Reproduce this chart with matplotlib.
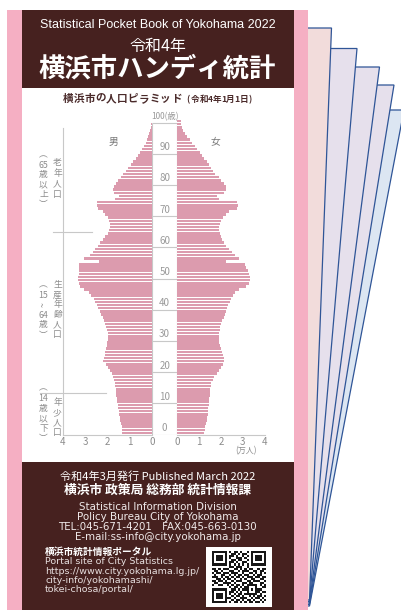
import matplotlib
matplotlib.use('Agg')
import matplotlib.pyplot as plt
from matplotlib.patches import Rectangle, Polygon
import numpy as np

plt.rcParams['font.family'] = ['Noto Sans CJK JP', 'DejaVu Sans']

# population by age (0..100+), unit: 10,000 persons
ages = list(range(101))
male = [
    1.33, 1.35, 1.37, 1.40, 1.42, 1.44, 1.47, 1.49, 1.52, 1.54,
    1.56, 1.58, 1.60, 1.62, 1.64, 1.66, 1.68, 1.71, 1.76, 1.82,
    1.90, 1.97, 2.05, 2.20, 2.14, 2.12, 2.12, 2.08, 2.04, 2.02,
    2.00, 1.99, 2.00, 2.03, 2.06, 2.10, 2.15, 2.20, 2.28, 2.35,
    2.41, 2.47, 2.55, 2.62, 2.72, 2.85, 3.05, 3.25, 3.30, 3.32,
    3.32, 3.30, 3.28, 3.27, 3.27, 2.36, 3.05, 2.78, 2.66, 2.55,
    2.43, 2.32, 2.20, 2.09, 2.00, 1.94, 1.91, 1.90, 1.93, 2.00,
    2.10, 2.22, 2.44, 2.48, 2.45, 1.65, 1.50, 1.70, 1.74, 1.70,
    1.64, 1.52, 1.41, 1.30, 1.18, 1.06, 0.95, 0.84, 0.73, 0.63,
    0.53, 0.44, 0.35, 0.29, 0.23, 0.17, 0.12, 0.08, 0.05, 0.03,
    0.02]
female = [
    1.23, 1.26, 1.29, 1.32, 1.35, 1.37, 1.39, 1.41, 1.43, 1.45,
    1.46, 1.47, 1.48, 1.50, 1.51, 1.53, 1.56, 1.62, 1.70, 1.80,
    1.92, 2.01, 2.08, 2.14, 2.12, 2.08, 2.04, 2.00, 1.96, 1.93,
    1.92, 1.91, 1.92, 1.95, 1.98, 2.02, 2.07, 2.12, 2.17, 2.22,
    2.28, 2.34, 2.40, 2.46, 2.55, 2.65, 2.85, 3.15, 3.28, 3.32,
    3.32, 3.30, 3.24, 3.15, 3.10, 2.25, 2.85, 2.66, 2.50, 2.36,
    2.25, 2.15, 2.07, 2.00, 1.95, 1.92, 1.92, 1.95, 2.02, 2.10,
    2.22, 2.38, 2.75, 2.80, 2.72, 1.90, 1.80, 2.15, 2.24, 2.22,
    2.14, 2.02, 1.90, 1.75, 1.62, 1.54, 1.46, 1.35, 1.23, 1.13,
    1.03, 0.92, 0.80, 0.68, 0.57, 0.45, 0.34, 0.28, 0.22, 0.18,
    0.15]
age_marks = [0, 10, 20, 30, 40, 50, 60, 70, 80, 90, 100]
pop_ticks = [0, 1, 2, 3, 4]

header_lines = ['Statistical Pocket Book of Yokohama 2022', '令和4年', '横浜市ハンディ統計']
footer_lines = ['Statistical Information Division', 'Policy Bureau City of Yokohama',
                'TEL:045-671-4201　FAX:045-663-0130', 'E-mail:ss-info@city.yokohama.jp']
portal_lines = ['Portal site of City Statistics', 'https://www.city.yokohama.lg.jp/',
                'city-info/yokohamashi/', 'tokei-chosa/portal/']

qr_rows = [
    "1111111010110100101111111",
    "1000001001101011001000001",
    "1011101011010010101011101",
    "1011101010011101001011101",
    "1011101001101100101011101",
    "1000001011010011001000001",
    "1111111010101010101111111",
    "0000000011011100100000000",
    "1101011100110101011001011",
    "0110100011001011100110110",
    "1011011101110010011010101",
    "0100110010101101100101100",
    "1110101101011010111011011",
    "0011010110100101001100110",
    "1101101001011100110111001",
    "0110011110100011011000110",
    "1001100101011010111110101",
    "0000000010110101100010011",
    "1111111001101011101011100",
    "1000001011010100100011011",
    "1011101010101101111110100",
    "1011101001011010010101101",
    "1011101110100111001011010",
    "1000001001011010110100101",
    "1111111010110101011011010",
]

BROWN = '#46211f'
PINK = '#f5afc3'
BAR = '#dc9bae'
LINE = '#c8c8c8'
GRAY = '#8c8c8c'

W, H = 401, 610
fig = plt.figure(figsize=(W / 100, H / 100), dpi=100)
bg = fig.add_axes([0, 0, 1, 1])
bg.set_xlim(0, W)
bg.set_ylim(H, 0)
bg.axis('off')


def frac(x0, y0, x1, y1):
    return [x0 / W, 1 - y1 / H, (x1 - x0) / W, (y1 - y0) / H]


def spaced(x, y, s, step, **kw):
    # draw characters one by one with a fixed pitch (letter-spaced title)
    for ch in s:
        w = step if ord(ch) > 0x2000 else step * 0.55
        bg.text(x + w / 2, y, ch, ha='center', va='center', **kw)
        x += w


# fanned pages behind the cover
page_tops = [(28, 331.5), (48.5, 357), (67, 379.5), (85, 394), (110, 404)]
page_fill = ['#f2dcdb', '#e6e0ec', '#e6e0ec', '#e6e0ec', '#dce6f2']
for k in range(len(page_tops) - 1, -1, -1):
    ty, rx = page_tops[k]
    by = 600 + 1.5 * k
    bg.add_patch(Polygon([(300, by), (300, ty), (rx, ty), (309.5, by)], closed=True,
                         facecolor=page_fill[k], edgecolor='#2f5597', lw=0.9))

# cover
bg.add_patch(Rectangle((7, 10), 301, 600, facecolor=PINK, edgecolor='none'))
bg.add_patch(Rectangle((22, 10), 272, 78, facecolor=BROWN, edgecolor='none'))
bg.add_patch(Rectangle((22, 88), 272, 374, facecolor='white', edgecolor='none'))
bg.add_patch(Rectangle((22, 462), 272, 148, facecolor=BROWN, edgecolor='none'))

bg.text(157.5, 25, header_lines[0], color='white', fontsize=9, ha='center', va='center',
        family=['Liberation Sans', 'DejaVu Sans'])
bg.text(157.5, 46, header_lines[1], color='white', fontsize=11.5, ha='center', va='center')
bg.text(157.5, 69, header_lines[2], color='white', fontsize=19, fontweight='bold',
        ha='center', va='center')

spaced(63, 99, '横浜市の人口ピラミッド', 10.75, color='#4a2a2a', fontsize=7.6,
       fontweight='bold')
spaced(186, 99.5, '(令和4年1月1日)', 8.6, color='#4a2a2a', fontsize=6.2,
       fontweight='bold')

# left group labels
bg.plot([63, 63], [128, 434.5], color=LINE, lw=0.8)
bg.plot([53, 92], [232, 232], color=LINE, lw=0.8)
bg.plot([40, 106], [393.3, 393.3], color=LINE, lw=0.8)
groups = [
    (['︵', '65', '歳', '以', '上', '︶'], [155, 165, 175, 185, 194.5, 205],
     ['老', '年', '人', '口'], [163, 173.5, 184, 194]),
    (['︵', '15', '~', '64', '歳', '︶'], [285, 295, 305, 315, 325, 335.5],
     ['生', '産', '年', '齢', '人', '口'], [285, 295, 305, 315, 325, 335]),
    (['︵', '14', '歳', '以', '下', '︶'], [388, 398.5, 408.5, 418.5, 428.5, 438.5],
     ['年', '少', '人', '口'], [403, 413, 423, 433]),
]
for c1, y1, c2, y2 in groups:
    for s, y in zip(c1, y1):
        bg.text(43.5, y, s, color=GRAY, fontsize=6.3, ha='center', va='center',
                rotation=90 if s == '~' else 0)
    for s, y in zip(c2, y2):
        bg.text(57.5, y, s, color=GRAY, fontsize=6.3, ha='center', va='center')

bg.text(113, 142, '男', color='#777777', fontsize=7, ha='center', va='center')
bg.text(215, 142, '女', color='#777777', fontsize=7, ha='center', va='center')
bg.text(246, 451, '(万人)', color=GRAY, fontsize=5.8, ha='center', va='center')

# pyramid
y0, y1 = 119.5, 434.5
axm = fig.add_axes(frac(63, y0, 152, y1))
axf = fig.add_axes(frac(177.3, y0, 264.5, y1))
axg = fig.add_axes(frac(152, y0, 177.3, y1))
for ax, vals in ((axm, male), (axf, female)):
    ax.barh(ages, vals, height=0.82, color=BAR, edgecolor='none')
    ax.set_ylim(-0.5, 100.5)
    ax.set_yticks([])
    ax.set_xticks(pop_ticks)
    ax.set_xticklabels([str(t) for t in pop_ticks])
    ax.tick_params(axis='x', length=0, pad=1.5, labelsize=7, labelcolor=GRAY)
    for sp in ('top', 'left', 'right'):
        ax.spines[sp].set_visible(False)
    ax.spines['bottom'].set_color(LINE)
    ax.spines['bottom'].set_linewidth(0.8)
    ax.patch.set_alpha(0)
axm.set_xlim(4, 0)
axf.set_xlim(0, 4)

axg.set_xlim(0, 1)
axg.set_ylim(-0.5, 100.5)
axg.axis('off')
axg.vlines([0, 1], -0.5, 99.5, color=LINE, lw=0.8)
axg.hlines([a - 0.5 for a in age_marks], 0, 1, color=LINE, lw=0.8)
for a in age_marks:
    lab = '100(歳)' if a == 100 else str(a)
    axg.text(0.5, a - 0.5 + 0.5, lab, color='#9a9a9a', fontsize=7 if a < 100 else 6,
             ha='center', va='bottom')

# footer
bg.text(157.5, 476, '令和4年3月発行 Published March 2022', color='white', fontsize=8,
        ha='center', va='center')
bg.text(157.5, 490, '横浜市 政策局 総務部 統計情報課', color='white', fontsize=9.2,
        fontweight='bold', ha='center', va='center')
for s, y in zip(footer_lines, [506.5, 516.5, 526.5, 536.5]):
    bg.text(157.5, y, s, color='#f0eaea', fontsize=7.4, ha='center', va='center',
            family=['DejaVu Sans', 'Noto Sans CJK JP'])
bg.text(45, 552, '横浜市統計情報ポータル', color='white', fontsize=7, fontweight='bold',
        ha='left', va='center')
for s, y in zip(portal_lines, [561.5, 571, 580.5, 590]):
    bg.text(45, y, s, color='#e6dede', fontsize=6.8, ha='left', va='center',
            family=['DejaVu Sans'])

# QR code
bg.add_patch(Rectangle((206, 547), 66, 60, facecolor='white', edgecolor='none'))
qr = np.array([[c == '1' for c in r.ljust(25, '0')[:25]] for r in qr_rows], dtype=float)
for r0, c0 in ((0, 0), (0, 18), (18, 0)):
    qr[r0:r0 + 7, c0:c0 + 7] = 1
    qr[r0 + 1:r0 + 6, c0 + 1:c0 + 6] = 0
    qr[r0 + 2:r0 + 5, c0 + 2:c0 + 5] = 1
bg.imshow(qr, cmap='gray_r', interpolation='nearest', extent=(212, 266, 603, 551),
          aspect='auto', vmin=0, vmax=1.1, zorder=5)
bg.set_xlim(0, W)
bg.set_ylim(H, 0)

fig.savefig('out.png', dpi=100)
